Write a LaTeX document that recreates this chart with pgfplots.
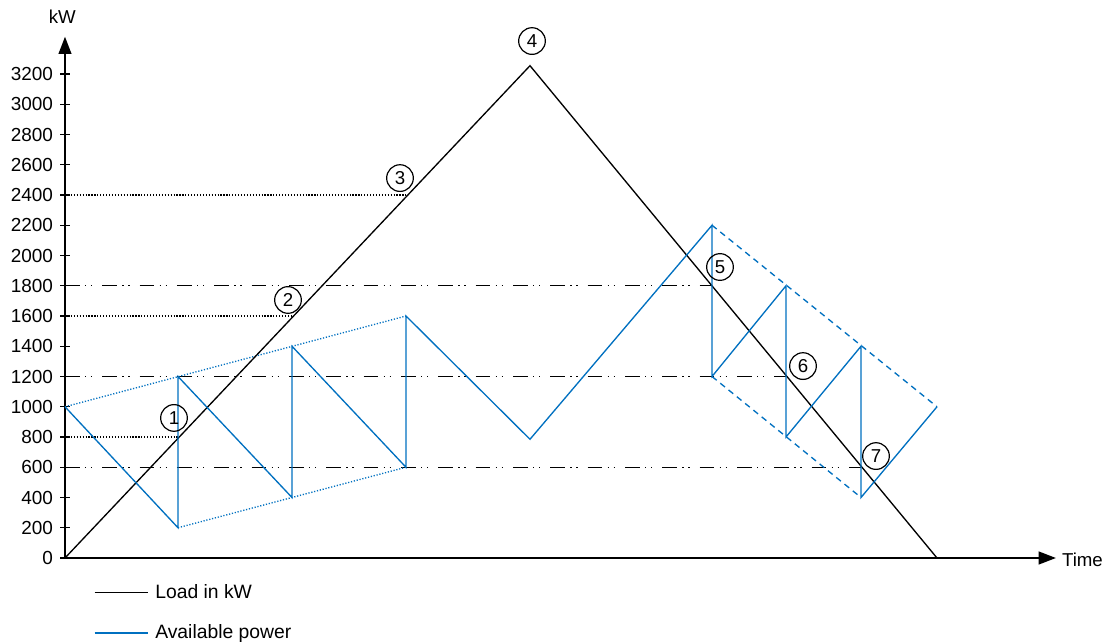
\documentclass[border=0pt]{standalone}
\usepackage{pgfplots}
\pgfplotsset{compat=1.18}
\usepackage{fontspec}
\setmainfont{Liberation Sans}
\usetikzlibrary{arrows.meta}
\definecolor{availblue}{RGB}{0,112,192}
\begin{document}
\begin{tikzpicture}
\tikzset{
  num/.style={draw=black, circle, line width=0.9pt, minimum size=20pt, inner sep=0pt,
    font=\fontsize{14}{16}\selectfont},
  ddot/.style={dash pattern=on 11pt off 4pt on 1pt off 3.5pt on 1pt off 7.5pt},
  fine dot/.style={dash pattern=on 0.9pt off 1.3pt},
}
\begin{axis}[
  scale only axis,
  width=743.25pt, height=391pt,
  xmin=0, xmax=991, ymin=0, ymax=3447,
  axis x line=bottom, axis y line=left,
  axis line style={line width=1.6pt, -{Triangle[length=13pt,width=9.5pt]}},
  xtick=\empty,
  ytick={0,200,...,3200},
  tick align=center,
  major tick length=7pt,
  tick style={line width=1pt, black},
  /pgf/number format/assume math mode=true,
  /pgf/number format/1000 sep={},
  yticklabel style={font=\fontsize{14.2}{16}\selectfont, xshift=-2pt},
  xlabel={Time},
  ylabel={kW},
  x label style={at={(rel axis cs:1,0)}, anchor=west, xshift=1pt, yshift=-1pt,
    font=\fontsize{14}{16}\selectfont},
  y label style={at={(rel axis cs:0,1)}, rotate=-90, anchor=south, xshift=-2pt, yshift=6pt,
    font=\fontsize{14}{16}\selectfont},
  clip=false,
  legend image code/.code={\draw[#1] (0pt,0pt) -- (40pt,0pt);},
  legend style={at={(rel axis cs:0,0)}, anchor=north west, xshift=21.5pt, yshift=-17.5pt,
    draw=none, fill=none, inner sep=0pt, row sep=14.5pt, column sep=3pt,
    font=\fontsize{14.5}{16}\selectfont,
    nodes={inner sep=2pt}},
  legend cell align=left,
]
% reference lines
\addplot[black, line width=0.8pt, fine dot, forget plot] coordinates {(0,800) (113,800)};
\addplot[black, line width=0.8pt, fine dot, forget plot] coordinates {(0,1600) (227,1600)};
\addplot[black, line width=0.8pt, fine dot, forget plot] coordinates {(0,2400) (341,2400)};
\addplot[black, line width=1pt, ddot, forget plot] coordinates {(0,1800) (647,1800)};
\addplot[black, line width=1pt, ddot, forget plot] coordinates {(0,1200) (721,1200)};
\addplot[black, line width=1pt, ddot, forget plot] coordinates {(0,600) (796,600)};
% envelopes
\addplot[availblue, line width=1pt, fine dot, forget plot] coordinates {(0,1000) (341,1600)};
\addplot[availblue, line width=1pt, fine dot, forget plot] coordinates {(113,200) (341,600)};
\addplot[availblue, line width=1pt, dash pattern=on 4.5pt off 3.5pt, forget plot] coordinates {(647,2200) (872,1000)};
\addplot[availblue, line width=1pt, dash pattern=on 4.5pt off 3.5pt, forget plot] coordinates {(647,1200) (796,400)};
% load
\addplot[black, line width=1pt] coordinates {(0,0) (465,3255) (872,0)};
\addlegendentry{Load in kW}
% available power
\addplot[availblue, line width=1pt] coordinates {
  (0,1000) (113,200) (113,1200) (227,400) (227,1400) (341,600) (341,1600)
  (465,785) (647,2200) (647,1200) (721,1800) (721,800) (796,1400) (796,400) (872,1000)};
\addlegendentry{Available power}
% circled markers
\node[num] at (axis cs:109,926) {1};
\node[num] at (axis cs:223,1706) {2};
\node[num] at (axis cs:335,2512) {3};
\node[num] at (axis cs:467,3418) {4};
\node[num] at (axis cs:655,1924) {5};
\node[num] at (axis cs:738,1269) {6};
\node[num] at (axis cs:811,674) {7};
\end{axis}
\pgfresetboundingbox
\path[use as bounding box] (-48.75pt,-63pt) rectangle (781.5pt,418.5pt);
\end{tikzpicture}
\end{document}
